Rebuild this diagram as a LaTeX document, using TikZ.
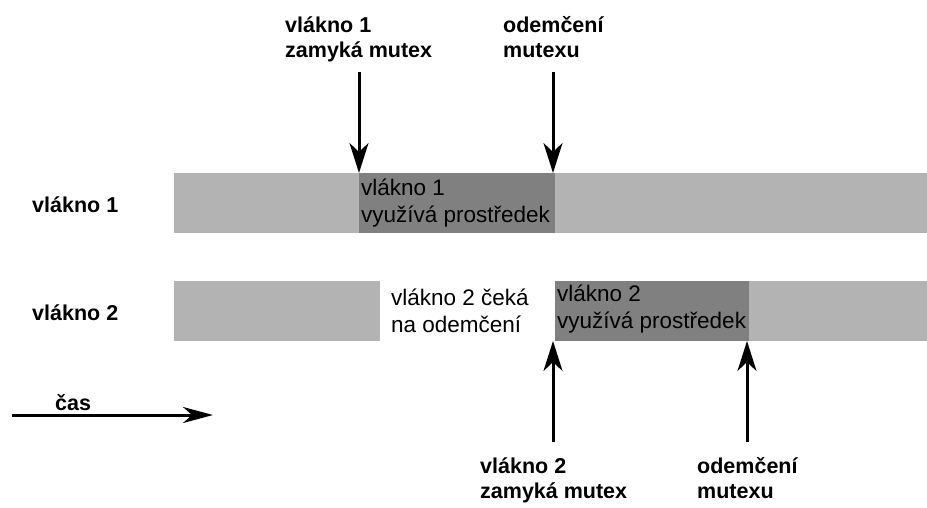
\documentclass[tikz,border=0pt]{standalone}
\usepackage{fontspec}
\setmainfont{Liberation Sans}
\usetikzlibrary{arrows.meta}
\definecolor{barlight}{HTML}{B3B3B3}
\definecolor{bardark}{HTML}{808080}

\begin{document}
\begin{tikzpicture}
    [x=1pt,y=-1pt,
     lbl/.style={font=\fontsize{21.5}{25}\selectfont\bfseries,align=left,inner sep=0pt,anchor=base west},
     txt/.style={font=\fontsize{22.5}{27}\selectfont,align=left,inner sep=0pt,anchor=base west},
     evarrow/.style={-{Stealth[length=30pt,width=19pt,inset=9pt]},line width=3pt},
     timearrow/.style={-{Stealth[length=30pt,width=16pt,inset=9pt]},line width=3pt}]
    \useasboundingbox (0,0) rectangle (927,507);
    % bars
    \fill[barlight] (174,173) rectangle (927,233);
    \fill[bardark] (359,173) rectangle (555,233);
    \fill[barlight] (174,281) rectangle (927,341);
    \fill[white] (380,281) rectangle (555,341);
    \fill[bardark] (555,281) rectangle (749,341);
    % thread names
    \node[lbl] (thr1) at (32,212) {vlákno 1};
    \node[lbl] (thr2) at (32,320) {vlákno 2};
    % texts in the bars (anchor = last line)
    \node[txt] (use1) at (361,222) {vlákno 1\\využívá prostředek};
    \node[txt] (wait2) at (391,332) {vlákno 2 čeká\\na odemčení};
    \node[txt] (use2) at (557,328) {vlákno 2\\využívá prostředek};
    % events
    \node[lbl] (lock1) at (285,57) {vlákno 1\\zamyká mutex};
    \node[lbl] (unlock1) at (503,57) {odemčení\\mutexu};
    \node[lbl] (lock2) at (480,498) {vlákno 2\\zamyká mutex};
    \node[lbl] (unlock2) at (697,498) {odemčení\\mutexu};
    \coordinate (lock1top) at (359,72);
    \coordinate (lock1on) at (359,173);
    \coordinate (unlock1top) at (553,72);
    \coordinate (unlock1on) at (553,173);
    \coordinate (lock2bot) at (553,442);
    \coordinate (lock2on) at (553,341);
    \coordinate (unlock2bot) at (747,442);
    \coordinate (unlock2on) at (747,341);
    \draw[evarrow] (lock1top) -- (lock1on);
    \draw[evarrow] (unlock1top) -- (unlock1on);
    \draw[evarrow] (lock2bot) -- (lock2on);
    \draw[evarrow] (unlock2bot) -- (unlock2on);
    % time
    \node[lbl] (time) at (55,410) {čas};
    \coordinate (t0) at (12,415);
    \coordinate (t1) at (213,415);
    \draw[timearrow] (t0) -- (t1);
\end{tikzpicture}
\end{document}
